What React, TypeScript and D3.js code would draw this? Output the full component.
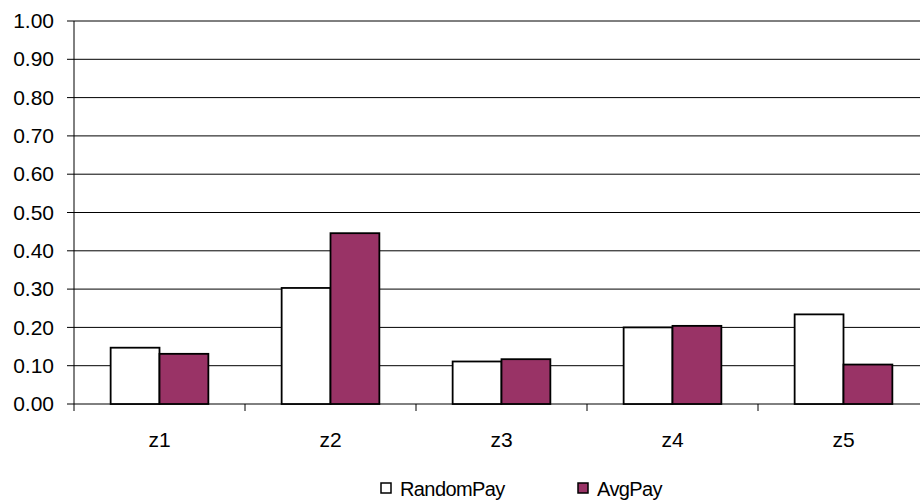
import React from "react";
import * as d3 from "d3";

const categories = ["z1", "z2", "z3", "z4", "z5"];
const randomPay = [0.147, 0.303, 0.111, 0.2, 0.234];
const avgPay = [0.131, 0.446, 0.117, 0.204, 0.103];
const seriesNames = ["RandomPay", "AvgPay"];
const yTicks = [0, 0.1, 0.2, 0.3, 0.4, 0.5, 0.6, 0.7, 0.8, 0.9, 1.0];

const W = 920;
const H = 500;
const left = 74;
const catW = 171;
const right = left + catW * categories.length;
const top = 21;
const bottom = 404;
const colors = ["#ffffff", "#993366"];
const font = "'Liberation Sans', Arial, sans-serif";

export default function App() {
  const x = d3.scaleBand<string>().domain(categories).range([left, right]).paddingInner(0).paddingOuter(0);
  const barW = catW / 3.5;
  const y = d3.scaleLinear().domain([0, 1]).range([bottom, top]);
  const fmt = d3.format(".2f");
  const series = [randomPay, avgPay];

  return (
    <svg width={W} height={H} style={{ position: "absolute", left: 0, top: 0, background: "#fff" }}>
      {yTicks.map((t) => (
        <g key={t}>
          <line x1={left - 7} x2={W} y1={y(t)} y2={y(t)} stroke="#000" strokeWidth={1} />
          <text x={54} y={y(t)} dy="0.34em" textAnchor="end" fontFamily={font} fontSize={21} fill="#000">
            {fmt(t)}
          </text>
        </g>
      ))}
      <line x1={left} x2={left} y1={top} y2={bottom} stroke="#000" strokeWidth={1} />
      {d3.range(categories.length + 1).map((i) => (
        <line key={i} x1={left + i * catW} x2={left + i * catW} y1={bottom} y2={bottom + 7} stroke="#000" strokeWidth={1} />
      ))}
      {categories.map((c, ci) => (
        <g key={c}>
          {series.map((s, si) => (
            <rect
              key={si}
              x={(x(c) as number) + catW * 0.75 / 3.5 + si * barW}
              y={y(s[ci])}
              width={barW}
              height={bottom - y(s[ci])}
              fill={colors[si]}
              stroke="#000"
              strokeWidth={1.8}
            />
          ))}
          <text x={(x(c) as number) + catW / 2} y={447} textAnchor="middle" fontFamily={font} fontSize={21} fill="#000">
            {c}
          </text>
        </g>
      ))}
      {seriesNames.map((n, i) => {
        const lx = [381, 578][i];
        return (
          <g key={n}>
            <rect x={lx} y={483} width={10} height={10} fill={colors[i]} stroke="#000" strokeWidth={1.5} />
            <text x={lx + 19} y={496} fontFamily={font} fontSize={20} letterSpacing={-0.6} fill="#000">
              {n}
            </text>
          </g>
        );
      })}
    </svg>
  );
}
